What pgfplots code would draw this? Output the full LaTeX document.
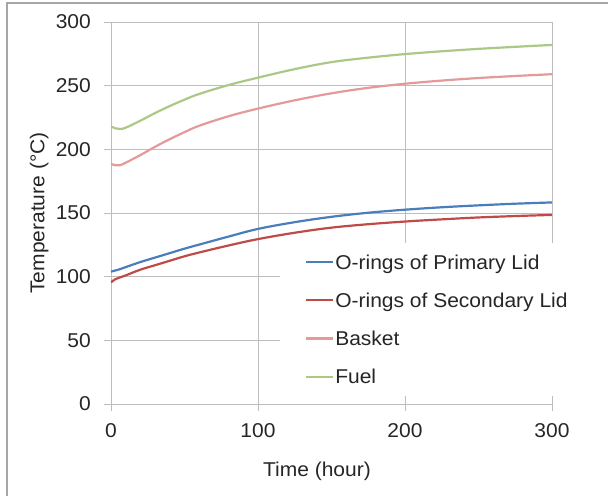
\documentclass[border=0pt]{standalone}
\usepackage{fontspec}
\setmainfont{Liberation Sans}[FakeStretch=1.05]
\usepackage{pgfplots}
\pgfplotsset{compat=1.18}
\definecolor{cblue}{HTML}{4A7EBB}
\definecolor{cred}{HTML}{BE4B48}
\definecolor{cpink}{HTML}{E39A99}
\definecolor{cgreen}{HTML}{ABC886}
\definecolor{gridgray}{HTML}{BDBDBD}
\begin{document}
\begin{tikzpicture}
\useasboundingbox (-111pt,-92pt) rectangle (497pt,404pt);
\begin{axis}[
  at={(0pt,0pt)}, anchor=south west,
  scale only axis, width=441pt, height=382pt,
  xmin=0, xmax=300, ymin=0, ymax=300,
  xtick={0,100,200,300}, ytick={0,50,100,150,200,250,300},
  grid=major, major grid style={color=gridgray, line width=0.9pt},
  axis lines*=left,
  axis line style={color=gridgray, line width=0.9pt},
  tick style={color=gridgray, line width=0.9pt},
  tick align=outside, major tick length=7pt,
  /pgf/number format/assume math mode=true,
  tick label style={font=\fontsize{20}{24}\selectfont, text=black!85},
  yticklabel style={anchor=east, inner xsep=0pt, inner ysep=0pt, xshift=-13pt},
  xticklabel style={inner ysep=0pt, yshift=-12pt},
  xlabel={Time (hour)}, ylabel={Temperature (°C)},
  label style={font=\fontsize{20}{24}\selectfont, text=black!85},
  xlabel style={at={(axis description cs:0.467,-0.175)}, anchor=center},
  ylabel style={at={(axis description cs:-0.163,0.5)}, anchor=center},
  legend style={at={(rel axis cs:0.383,0.422)}, anchor=north west,
    draw=none, fill=white, inner xsep=25pt, inner ysep=10pt,
    row sep=20.3pt, column sep=1pt,
    nodes={inner sep=0pt, text height=16pt, text depth=2pt, anchor=west},
    font=\fontsize{20}{24}\selectfont, text=black!85},
  legend cell align=left,
  legend image code/.code={\draw[#1, line width=2.2pt] (0pt,0pt) -- (27pt,0pt);},
  every axis plot/.append style={line width=2.2pt, smooth, tension=0.6},
]
\addplot[cblue] coordinates {
(0,104) (5,105.5) (10,107.5) (20,111.5) (30,115) (40,118.5) (50,122) (60,125.2)
(80,131.5) (100,137.5) (125,142.8) (150,147) (175,150.2) (200,152.6) (225,154.5)
(250,156) (275,157.3) (300,158.3)};
\addlegendentry{O-rings of Primary Lid}
\addplot[cred] coordinates {
(0,95.5) (3,98) (10,101) (20,105.5) (30,109) (40,112.5) (50,116) (60,119)
(80,124.5) (100,129.5) (125,134.5) (150,138.5) (175,141.2) (200,143.3) (225,145)
(250,146.5) (275,147.6) (300,148.5)};
\addlegendentry{O-rings of Secondary Lid}
\addplot[cpink] coordinates {
(0,188.5) (3,187.5) (6,187.5) (10,189.5) (20,195.5) (30,202) (40,208) (50,213.5)
(60,218.5) (80,226) (100,232) (125,238.5) (150,244) (175,248.3) (200,251.5)
(225,254) (250,256) (275,257.6) (300,259)};
\addlegendentry{Basket}
\addplot[cgreen] coordinates {
(0,218) (3,216.5) (6,216) (10,217) (20,222.5) (30,228.5) (40,234) (50,239)
(60,243.5) (80,250.5) (100,256.3) (125,263) (150,268.5) (175,272) (200,274.8)
(225,277) (250,278.9) (275,280.5) (300,282)};
\addlegendentry{Fuel}
\end{axis}
\draw[gray!70, line width=1.5pt] (-104pt,-92pt) -- (-104pt,401pt) -- (497pt,401pt);
\end{tikzpicture}
\end{document}
